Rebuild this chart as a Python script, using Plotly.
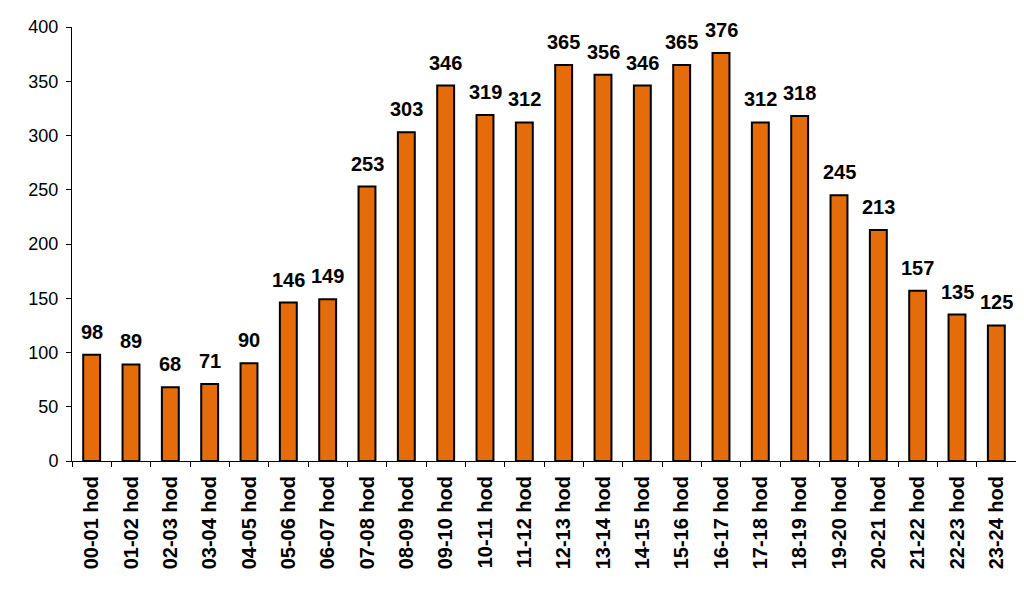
import plotly.graph_objects as go

hours = [f"{h:02d}-{h + 1:02d} hod" for h in range(24)]
counts = [98, 89, 68, 71, 90, 146, 149, 253, 303, 346, 319, 312,
          365, 356, 346, 365, 376, 312, 318, 245, 213, 157, 135, 125]
y_ticks = [0, 50, 100, 150, 200, 250, 300, 350, 400]

FONT = "Liberation Sans, Arial"

fig = go.Figure(
    go.Bar(
        x=hours,
        y=counts,
        marker=dict(color="#E46C0A", line=dict(color="black", width=2)),
        hoverinfo="x+y",
    )
)

# value labels above bars
for h, c in zip(hours, counts):
    fig.add_annotation(
        x=h, y=c, text=str(c),
        showarrow=False, yanchor="bottom", yshift=10,
        font=dict(family=FONT, size=20, color="black", weight="bold"),
    )

fig.update_xaxes(
    tickangle=-90,
    tickfont=dict(family=FONT, size=20, color="black", weight="bold"),
    ticklabelstandoff=6,
    showline=True,
    linecolor="black",
    linewidth=1,
    ticks="outside",
    tickson="boundaries",
    ticklen=5,
    tickcolor="black",
    showgrid=False,
    automargin=False,
)
fig.update_yaxes(
    range=[0, 400],
    tickvals=y_ticks,
    tickfont=dict(family=FONT, size=18, color="black"),
    ticklabelstandoff=4,
    showline=True,
    linecolor="black",
    linewidth=1,
    ticks="outside",
    ticklen=5,
    tickcolor="black",
    showgrid=False,
    zeroline=False,
    automargin=False,
)

fig.update_layout(
    width=1024,
    height=593,
    bargap=0.57,
    plot_bgcolor="white",
    paper_bgcolor="white",
    showlegend=False,
    margin=dict(l=64, r=16, t=19, b=140),
)

fig.write_html("out.html")
